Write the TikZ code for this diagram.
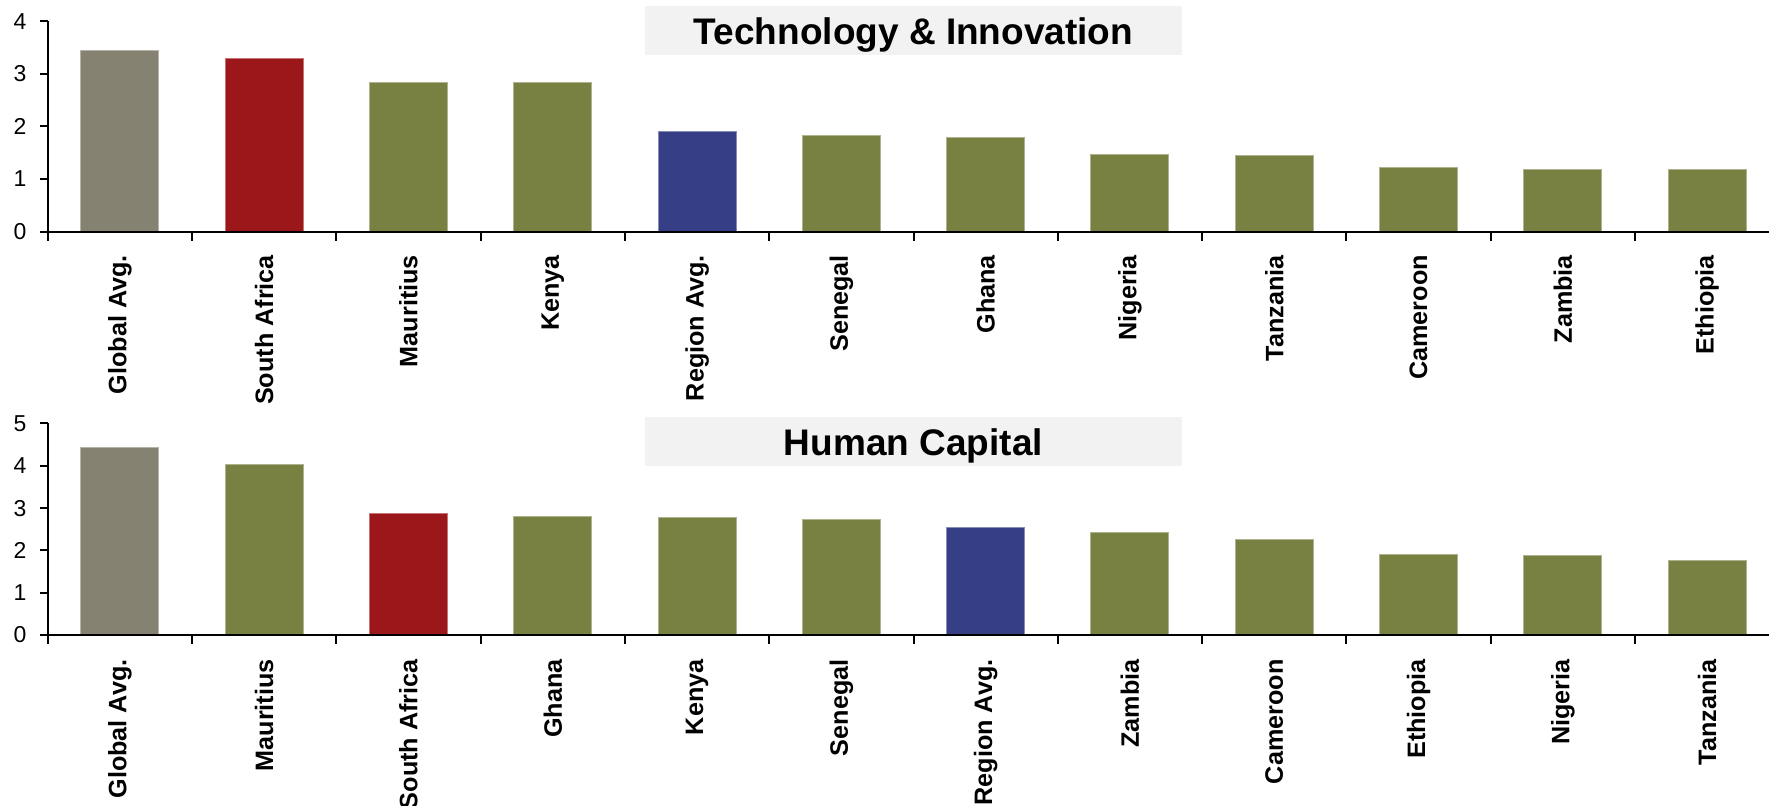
\documentclass[tikz,border=0pt]{standalone}
\usepackage{fontspec}
\setmainfont{Liberation Sans}
\definecolor{avggray}{HTML}{858272}
\definecolor{sared}{HTML}{9C1719}
\definecolor{barolive}{HTML}{788042}
\definecolor{regblue}{HTML}{363F85}
\definecolor{titlegray}{HTML}{F2F2F2}
\tikzset{
    colbar/.style={fill=#1, draw=#1!60!white, line width=0.5pt},
    axisline/.style={line width=1pt, black},
    catlabel/.style={rotate=90, anchor=east, inner sep=0pt, font=\fontsize{12.6}{15}\selectfont\bfseries},
    ticklabel/.style={anchor=east, inner sep=0pt, font=\fontsize{11.5}{13}\selectfont},
    titlebox/.style={fill=titlegray, minimum width=268.5pt, minimum height=24.8pt, inner sep=0pt, text depth=0pt, font=\fontsize{18.5}{21}\selectfont\bfseries}
}
\begin{document}
\begin{tikzpicture}[x=0.5pt,y=0.5pt]
    \useasboundingbox (0,0) rectangle (1769,806);
    % Technology & Innovation
    \node[titlebox] (techtitle) at (913.5,775.3) {Technology \& Innovation};
    \begin{scope}[shift={(47.7,574.3)}]
        \foreach \name/\val/\col [count=\i from 0] in {Global Avg./3.44/avggray, South Africa/3.30/sared, Mauritius/2.84/barolive, Kenya/2.84/barolive, Region Avg./1.91/regblue, Senegal/1.83/barolive, Ghana/1.80/barolive, Nigeria/1.47/barolive, Tanzania/1.44/barolive, Cameroon/1.22/barolive, Zambia/1.19/barolive, Ethiopia/1.19/barolive} {
            \draw[colbar=\col] ({\i*144.3+33.15},0) rectangle ({\i*144.3+111.15},{\val*52.6});
            \node[catlabel] (tech\i) at ({\i*144.3+72.15},-23) {\name};
            \draw[axisline] ({(\i+1)*144.3},0) -- ++(0,-9);
        }
        \draw[axisline] (0,-9) -- (0,{4*52.6});
        \draw[axisline] (0,0) -- (1721.3,0);
        \foreach \t in {0,...,4} {
            \draw[axisline] (-8,{\t*52.6}) -- (0,{\t*52.6});
            \node[ticklabel] (techy\t) at (-21,{\t*52.6}) {\t};
        }
    \end{scope}
    % Human Capital
    \node[titlebox] (humtitle) at (913.5,364.3) {Human Capital};
    \begin{scope}[shift={(47.7,171)}]
        \foreach \name/\val/\col [count=\i from 0] in {Global Avg./4.43/avggray, Mauritius/4.02/barolive, South Africa/2.88/sared, Ghana/2.81/barolive, Kenya/2.77/barolive, Senegal/2.73/barolive, Region Avg./2.55/regblue, Zambia/2.43/barolive, Cameroon/2.25/barolive, Ethiopia/1.91/barolive, Nigeria/1.87/barolive, Tanzania/1.75/barolive} {
            \draw[colbar=\col] ({\i*144.3+33.15},0) rectangle ({\i*144.3+111.15},{\val*42.3});
            \node[catlabel] (hum\i) at ({\i*144.3+72.15},-24) {\name};
            \draw[axisline] ({(\i+1)*144.3},0) -- ++(0,-9);
        }
        \draw[axisline] (0,-9) -- (0,{5*42.3});
        \draw[axisline] (0,0) -- (1721.3,0);
        \foreach \t in {0,...,5} {
            \draw[axisline] (-8,{\t*42.3}) -- (0,{\t*42.3});
            \node[ticklabel] (humy\t) at (-21,{\t*42.3}) {\t};
        }
    \end{scope}
\end{tikzpicture}
\end{document}
